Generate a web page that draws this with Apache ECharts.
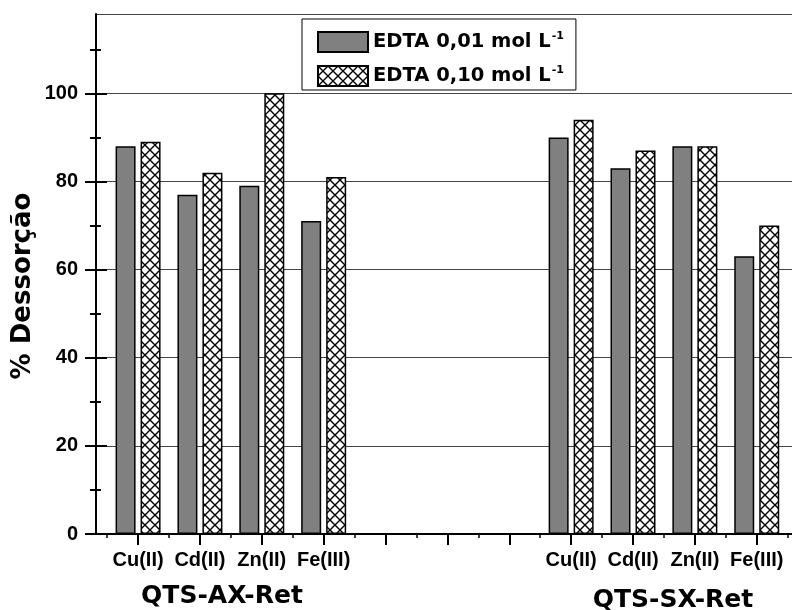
<!DOCTYPE html>
<html>
<head>
<meta charset="utf-8">
<script src="https://cdn.jsdelivr.net/npm/echarts@6/dist/echarts.min.js"></script>
<style>
  html, body { margin: 0; padding: 0; background: #fff; }
  #main { width: 792px; height: 610px; }
</style>
</head>
<body>
<div id="main"></div>
<script>
// bar positions on the x axis (two groups of four metals, gap in between)
var positions = [1, 2, 3, 4, 8, 9, 10, 11];
var metals = ['Cu(II)', 'Cd(II)', 'Zn(II)', 'Fe(III)', 'Cu(II)', 'Cd(II)', 'Zn(II)', 'Fe(III)'];
var edta001 = [88, 77, 79, 71, 90, 83, 88, 63];
var edta010 = [89, 82, 100, 81, 94, 87, 88, 70];
var seriesNames = ['EDTA 0,01 mol L', 'EDTA 0,10 mol L'];
var groupTitles = ['QTS-AX-Ret', 'QTS-SX-Ret'];
var xMajorTicks = [1, 2, 3, 4, 5, 6, 7, 8, 9, 10, 11];
var xMinorTicks = [0.5, 1.5, 2.5, 3.5, 4.5, 5.5, 6.5, 7.5, 8.5, 9.5, 10.5, 11.5];
var yLabels = [0, 20, 40, 60, 80, 100];
var yMinorTicks = [10, 30, 50, 70, 90, 110];

var numFont = '"Liberation Sans", Arial, sans-serif';
var wideFont = '"DejaVu Sans", sans-serif';

// cross hatch tile
var tile = document.createElement('canvas');
tile.width = 10;
tile.height = 10;
var ctx = tile.getContext('2d');
ctx.fillStyle = '#fff';
ctx.fillRect(0, 0, 10, 10);
ctx.strokeStyle = '#000';
ctx.lineWidth = 1.4;
ctx.beginPath();
ctx.moveTo(0, 0); ctx.lineTo(10, 10);
ctx.moveTo(10, 0); ctx.lineTo(0, 10);
ctx.stroke();

function pairs(vals) {
  return positions.map(function (p, i) { return [p, vals[i]]; });
}

var myChart = echarts.init(document.getElementById('main'));

var xMin = 0.32, xMax = 11.57;

var option = {
  animation: false,
  grid: { left: 96, right: 0, top: 14, bottom: 76 },
  legend: {
    orient: 'vertical',
    left: 302,
    top: 19,
    padding: [12, 12, 3, 15],
    itemGap: 12,
    itemWidth: 50,
    itemHeight: 20,
    icon: 'rect',
    borderColor: '#000',
    borderWidth: 1,
    backgroundColor: '#fff',
    data: seriesNames,
    formatter: function (name) { return name + '{sup|-1}'; },
    textStyle: {
      fontFamily: wideFont,
      fontWeight: 'bold',
      fontSize: 19.5,
      lineHeight: 22,
      color: '#000',
      rich: {
        sup: { fontFamily: wideFont, fontWeight: 'bold', fontSize: 11, lineHeight: 12, verticalAlign: 'top', padding: [0, 0, 0, 1] }
      }
    }
  },
  xAxis: [
    {
      type: 'value', min: xMin, max: xMax, position: 'bottom',
      axisLine: { lineStyle: { color: '#000', width: 2 } },
      axisTick: { customValues: xMajorTicks, length: 11, lineStyle: { color: '#000', width: 2 } },
      axisLabel: {
        customValues: positions,
        margin: 16,
        fontFamily: numFont, fontWeight: 'bold', fontSize: 20, color: '#000',
        formatter: function (v) { return metals[positions.indexOf(Math.round(v))]; }
      },
      splitLine: { show: false }
    },
    {
      type: 'value', min: xMin, max: xMax, position: 'bottom',
      axisLine: { show: false },
      axisTick: { customValues: xMinorTicks, length: 3, lineStyle: { color: '#000', width: 1.5 } },
      axisLabel: { show: false },
      splitLine: { show: false }
    },
    {
      type: 'value', min: xMin, max: xMax, position: 'top',
      axisLine: { lineStyle: { color: '#000', width: 2 } },
      axisTick: { customValues: xMajorTicks.concat(xMinorTicks), inside: true, length: 4, lineStyle: { color: '#000', width: 1.5 } },
      axisLabel: { show: false },
      splitLine: { show: false }
    }
  ],
  yAxis: [
    {
      type: 'value', min: 0, max: 118, interval: 20, position: 'left',
      axisLine: { show: true, lineStyle: { color: '#000', width: 2 } },
      axisTick: { show: false },
      axisLabel: {
        customValues: yLabels,
        margin: 18,
        fontFamily: numFont, fontWeight: 'bold', fontSize: 20, color: '#000'
      },
      splitLine: { show: true, lineStyle: { color: '#444', width: 1 } }
    },
    {
      type: 'value', min: 0, max: 118, position: 'left', offset: -11,
      axisLine: { show: false },
      axisTick: { show: true, customValues: yLabels, length: 22, lineStyle: { color: '#000', width: 2 } },
      axisLabel: { show: false },
      splitLine: { show: false }
    },
    {
      type: 'value', min: 0, max: 118, position: 'left', offset: -5,
      axisLine: { show: false },
      axisTick: { show: true, customValues: yMinorTicks, length: 11, lineStyle: { color: '#000', width: 2 } },
      axisLabel: { show: false },
      splitLine: { show: false }
    }
  ],
  series: [
    {
      name: seriesNames[0],
      type: 'bar',
      xAxisIndex: 0,
      yAxisIndex: 0,
      barWidth: 20,
      barGap: '25%',
      itemStyle: { color: '#808080', borderColor: '#000', borderWidth: 1.5 },
      data: pairs(edta001)
    },
    {
      name: seriesNames[1],
      type: 'bar',
      xAxisIndex: 0,
      yAxisIndex: 0,
      barWidth: 20,
      barGap: '25%',
      itemStyle: { color: { image: tile, repeat: 'repeat' }, borderColor: '#000', borderWidth: 1.5 },
      data: pairs(edta010)
    }
  ],
  graphic: [
    {
      type: 'text', x: 23, y: 286, rotation: Math.PI / 2,
      style: { text: '% Dessorção', fontFamily: wideFont, fontWeight: 'bold', fontSize: 26, fill: '#000', align: 'center', verticalAlign: 'middle' }
    },
    {
      type: 'text', x: 222, y: 596,
      style: { text: groupTitles[0], fontFamily: wideFont, fontWeight: 'bold', fontSize: 25, fill: '#000', align: 'center', verticalAlign: 'middle' }
    },
    {
      type: 'text', x: 673, y: 600,
      style: { text: groupTitles[1], fontFamily: wideFont, fontWeight: 'bold', fontSize: 25, fill: '#000', align: 'center', verticalAlign: 'middle' }
    }
  ]
};

myChart.setOption(option);
</script>
</body>
</html>
